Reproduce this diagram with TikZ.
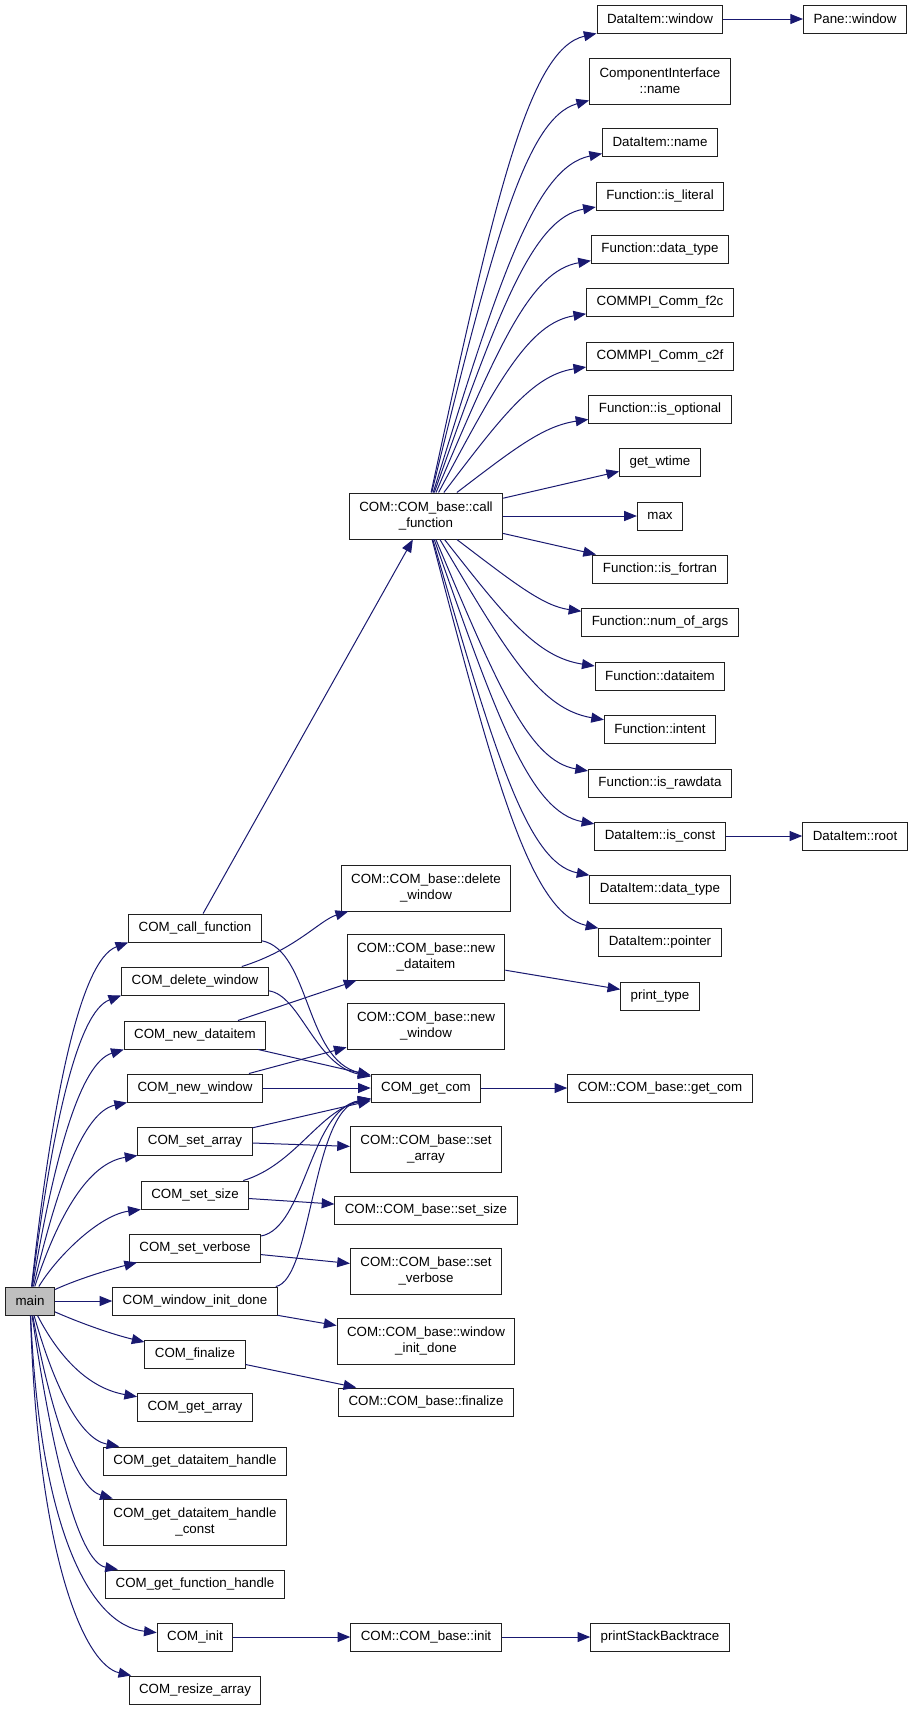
\documentclass[tikz,border=0pt]{standalone}
\usepackage{fontspec}
\setmainfont{Liberation Sans}
\usepackage{tikz}
\usetikzlibrary{arrows.meta}
\definecolor{EdgeBlue}{HTML}{191970}
\definecolor{MainGray}{HTML}{BFBFBF}
\definecolor{BoxLine}{HTML}{202020}

\tikzset{
  fn/.style={draw=BoxLine, line width=0.75pt, fill=white, minimum height=21pt,
    inner xsep=7.5pt, inner ysep=2pt, font=\fontsize{10}{12}\selectfont},
  fn2/.style={fn, minimum height=34.5pt, align=center},
  call/.style={draw=EdgeBlue, line width=0.75pt,
    -{Triangle[length=9.5pt,width=7.5pt]}}
}

\begin{document}
\begin{tikzpicture}[x=0.75pt,y=0.75pt]
  \useasboundingbox (0,0) rectangle (912,-1711);

  % caller column
  \node[fn, fill=MainGray] (main) at (30,-1301) {main};
  \node[fn] (ccf) at (195,-928) {COM\_call\_function};
  \node[fn] (cdw) at (195,-981) {COM\_delete\_window};
  \node[fn] (cnd) at (195,-1035) {COM\_new\_dataitem};
  \node[fn] (cnw) at (195,-1088) {COM\_new\_window};
  \node[fn] (csa) at (195,-1141) {COM\_set\_array};
  \node[fn] (css) at (195,-1195) {COM\_set\_size};
  \node[fn] (csv) at (195,-1248) {COM\_set\_verbose};
  \node[fn] (cwi) at (195,-1301) {COM\_window\_init\_done};
  \node[fn] (cfi) at (195,-1354) {COM\_finalize};
  \node[fn] (cga) at (195,-1407) {COM\_get\_array};
  \node[fn] (cgdh) at (195,-1461) {COM\_get\_dataitem\_handle};
  \node[fn2] (cgdc) at (195,-1522) {COM\_get\_dataitem\_handle\\\_const};
  \node[fn] (cgfh) at (195,-1584) {COM\_get\_function\_handle};
  \node[fn] (cin) at (195,-1637) {COM\_init};
  \node[fn] (cra) at (195,-1690) {COM\_resize\_array};

  % COM_base column
  \node[fn2] (bcf) at (426,-516) {COM::COM\_base::call\\\_function};
  \node[fn2] (bdw) at (426,-888) {COM::COM\_base::delete\\\_window};
  \node[fn2] (bnd) at (426,-957) {COM::COM\_base::new\\\_dataitem};
  \node[fn2] (bnw) at (426,-1026) {COM::COM\_base::new\\\_window};
  \node[fn] (gcom) at (426,-1088) {COM\_get\_com};
  \node[fn2] (bsa) at (426,-1149) {COM::COM\_base::set\\\_array};
  \node[fn] (bss) at (426,-1210) {COM::COM\_base::set\_size};
  \node[fn2] (bsv) at (426,-1271) {COM::COM\_base::set\\\_verbose};
  \node[fn2] (bwi) at (426,-1341) {COM::COM\_base::window\\\_init\_done};
  \node[fn] (bfi) at (426,-1402) {COM::COM\_base::finalize};
  \node[fn] (bin) at (426,-1637) {COM::COM\_base::init};

  % callees of call_function
  \node[fn2] (ciname) at (660,-81) {ComponentInterface\\::name};
  \foreach \nm/\y/\txt in {diw/19/DataItem::window, din/142/DataItem::name,
      fil/196/Function::is\_literal, fdt/249/Function::data\_type,
      f2c/302/COMMPI\_Comm\_f2c, c2f/356/COMMPI\_Comm\_c2f,
      fio/409/Function::is\_optional, gwt/462/get\_wtime, max/516/max,
      ifo/569/Function::is\_fortran, fna/622/Function::num\_of\_args,
      fdi/676/Function::dataitem, fint/729/Function::intent,
      fra/783/Function::is\_rawdata, dic/836/DataItem::is\_const,
      ddt/889/DataItem::data\_type, dpo/942/DataItem::pointer} {
    \node[fn] (\nm) at (660,-\y) {\txt};
  }
  \node[fn] (ptype) at (660,-996) {print\_type};
  \node[fn] (bgc) at (660,-1088) {COM::COM\_base::get\_com};
  \node[fn] (pst) at (660,-1637) {printStackBacktrace};
  \node[fn] (pw) at (855,-19) {Pane::window};
  \node[fn] (dir) at (855,-836) {DataItem::root};

  % main
  \draw[call] (main) .. controls (52,-1100) and (80,-960) .. (ccf.south west);
  \draw[call] (main) .. controls (52,-1129) and (77,-1012) .. (cdw.south west);
  \draw[call] (main) .. controls (54,-1158) and (80,-1063) .. (cnd.south west);
  \draw[call] (main) .. controls (57,-1187) and (83,-1112) .. (cnw.south west);
  \draw[call] (main) .. controls (58,-1216) and (88,-1163) .. (csa.south west);
  \draw[call] (main) .. controls (58,-1255) and (100,-1215) .. (css.south west);
  \draw[call] (main) .. controls (80,-1278) and (115,-1268) .. (csv);
  \draw[call] (main) -- (cwi);
  \draw[call] (main) .. controls (85,-1325) and (115,-1335) .. (cfi);
  \draw[call] (main) .. controls (59,-1357) and (88,-1388) .. (cga);
  \draw[call] (main) .. controls (54,-1386) and (80,-1439) .. (cgdh);
  \draw[call] (main) .. controls (51,-1414) and (76,-1488) .. (cgdc);
  \draw[call] (main) .. controls (52,-1453) and (78,-1562) .. (cgfh);
  \draw[call] (main) .. controls (40,-1530) and (90,-1625) .. (cin);
  \draw[call] (main) .. controls (38,-1560) and (85,-1665) .. (cra);

  % callers -> COM_base / COM_get_com
  \draw[call] (ccf) -- (bcf);
  \draw[call] (ccf) .. controls (310,-950) and (305,-1060) .. (gcom);
  \draw[call] (cdw) .. controls (295,-950) and (320,-920) .. (bdw);
  \draw[call] (cdw) .. controls (300,-995) and (315,-1065) .. (gcom);
  \draw[call] (cnd) -- (bnd);
  \draw[call] (cnd) -- (gcom);
  \draw[call] (cnw) -- (bnw);
  \draw[call] (cnw) -- (gcom);
  \draw[call] (csa) -- (gcom);
  \draw[call] (csa) -- (bsa);
  \draw[call] (css) .. controls (295,-1165) and (320,-1110) .. (gcom);
  \draw[call] (css) -- (bss);
  \draw[call] (csv) .. controls (305,-1228) and (310,-1110) .. (gcom);
  \draw[call] (csv) -- (bsv);
  \draw[call] (cwi) .. controls (312,-1280) and (312,-1110) .. (gcom);
  \draw[call] (cwi) -- (bwi);
  \draw[call] (cfi) -- (bfi);
  \draw[call] (cin) -- (bin);
  \draw[call] (bin) -- (pst);
  \draw[call] (bnd) -- (ptype);
  \draw[call] (gcom) -- (bgc);

  % call_function fan
  \draw[call] (bcf) .. controls (492,-247) and (525,-118) .. (ciname);
  \foreach \nm/\ax/\ay/\bx/\by in {diw/494/202/528/49, din/499/279/535/167,
      fil/498/313/532/218, fdt/498/347/530/271, f2c/498/381/529/323,
      c2f/502/416/533/375, fio/514/449/543/426, fna/514/583/543/606,
      fdi/505/616/536/657, fint/506/651/539/709, fra/497/685/529/761,
      dic/497/718/530/812, ddt/494/751/527/863, dpo/496/785/531/913} {
    \draw[call] (bcf) .. controls (\ax,-\ay) and (\bx,-\by) .. (\nm);
  }
  \draw[call] (bcf) -- (gwt);
  \draw[call] (bcf) -- (max);
  \draw[call] (bcf) -- (ifo);
  \draw[call] (diw) -- (pw);
  \draw[call] (dic) -- (dir);
\end{tikzpicture}
\end{document}
